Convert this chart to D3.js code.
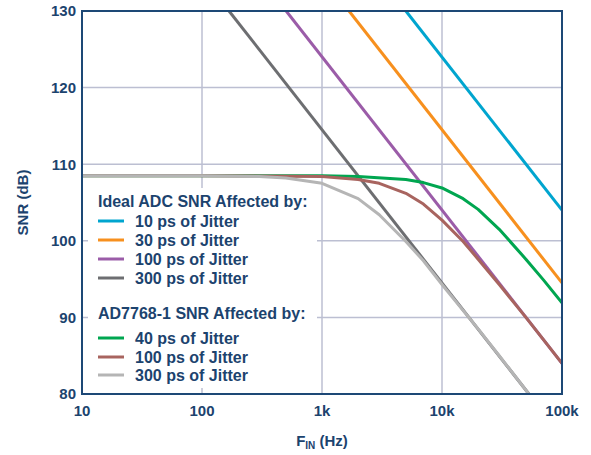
<!DOCTYPE html>
<html>
<head>
<meta charset="utf-8">
<script src="https://cdn.jsdelivr.net/npm/d3@7"></script>
<style>
  body { margin: 0; background: #fff; }
  text { font-family: "Liberation Sans", Arial, sans-serif; font-weight: bold; fill: #1c436e; }
</style>
</head>
<body>
<svg width="591" height="455"></svg>
<script>
  // x ticks (Hz) and labels
  const xTicks = [10, 100, 1000, 10000, 100000];
  const xTickLabels = ['10', '100', '1k', '10k', '100k'];
  const yTicks = [80, 90, 100, 110, 120, 130];

  // ideal ADC, jitter limited only (straight lines on log x)
  const ideal10 = [[5000, 130], [100000, 104]];
  const ideal30 = [[1680, 130], [100000, 94.5]];
  const ideal100 = [[503, 130], [100000, 84]];
  const ideal300 = [[168, 130], [53000, 80]];

  // AD7768-1 SNR
  const ad40 = [[10, 108.5], [100, 108.5], [1000, 108.5], [2000, 108.4], [5000, 108.0], [7000, 107.6],
    [10000, 106.9], [15000, 105.5], [20000, 104.1], [30000, 101.5], [50000, 97.6], [70000, 94.9], [100000, 91.9]];
  const ad100 = [[10, 108.5], [100, 108.5], [1000, 108.4], [2000, 108.0], [3000, 107.5], [5000, 106.2],
    [7000, 104.8], [10000, 102.7], [15000, 99.9], [20000, 97.6], [30000, 94.3], [50000, 90.0], [70000, 87.1], [100000, 84.0]];
  const ad300 = [[10, 108.5], [100, 108.5], [300, 108.4], [500, 108.2], [1000, 107.5], [2000, 105.5],
    [3000, 103.4], [5000, 99.9], [7000, 97.4], [10000, 94.3], [20000, 88.5], [30000, 85.0], [50000, 80.5], [55000, 79.7]];

  const series = [
    { data: ideal300, color: '#6d6e71', label: '300 ps of Jitter' },
    { data: ideal100, color: '#9b5ca8', label: '100 ps of Jitter' },
    { data: ideal30, color: '#f7901e', label: '30 ps of Jitter' },
    { data: ideal10, color: '#00a5cf', label: '10 ps of Jitter' },
    { data: ad40, color: '#00a650', label: '40 ps of Jitter' },
    { data: ad100, color: '#a8645f', label: '100 ps of Jitter' },
    { data: ad300, color: '#b5b5b5', label: '300 ps of Jitter' }
  ];

  const svg = d3.select('svg');
  const margin = { top: 11, right: 29, bottom: 61, left: 82 };
  const width = 591, height = 455;
  const innerWidth = width - margin.left - margin.right;
  const innerHeight = height - margin.top - margin.bottom;

  const x = d3.scaleLog().domain([10, 100000]).range([0, innerWidth]);
  const y = d3.scaleLinear().domain([80, 130]).range([innerHeight, 0]);

  const g = svg.append('g').attr('transform', `translate(${margin.left},${margin.top})`);

  g.append('clipPath').attr('id', 'clip')
    .append('rect').attr('width', innerWidth).attr('height', innerHeight);

  // grid
  g.selectAll('.vgrid').data(xTicks.slice(1, -1))
    .enter().append('line')
      .attr('x1', d => x(d)).attr('x2', d => x(d))
      .attr('y1', 0).attr('y2', innerHeight)
      .attr('stroke', '#bcbfd2').attr('stroke-width', 1.5);
  g.selectAll('.hgrid').data(yTicks.slice(1, -1))
    .enter().append('line')
      .attr('x1', 0).attr('x2', innerWidth)
      .attr('y1', d => y(d)).attr('y2', d => y(d))
      .attr('stroke', '#bcbfd2').attr('stroke-width', 1.5);

  const line = d3.line().x(d => x(d[0])).y(d => y(d[1]));

  g.append('g').attr('clip-path', 'url(#clip)')
    .selectAll('path').data(series)
    .enter().append('path')
      .attr('d', d => line(d.data))
      .attr('fill', 'none')
      .attr('stroke', d => d.color)
      .attr('stroke-width', 3)
      .attr('stroke-linejoin', 'round');

  // legend with white background
  const leg = g.append('g');
  leg.append('rect')
    .attr('x', 6).attr('y', 177).attr('width', 229).attr('height', 200)
    .attr('fill', '#fff');

  const legendRows = [
    { header: 'Ideal ADC SNR Affected by:', y: 196 },
    { s: series[3], y: 210 },
    { s: series[2], y: 229 },
    { s: series[1], y: 248 },
    { s: series[0], y: 267 },
    { header: 'AD7768-1 SNR Affected by:', y: 308 },
    { s: series[4], y: 327 },
    { s: series[5], y: 346 },
    { s: series[6], y: 364 }
  ];
  legendRows.forEach(r => {
    if (r.header) {
      leg.append('text').attr('x', 16).attr('y', r.y)
        .attr('font-size', 16).text(r.header);
    } else {
      leg.append('line')
        .attr('x1', 16).attr('x2', 42).attr('y1', r.y).attr('y2', r.y)
        .attr('stroke', r.s.color).attr('stroke-width', 3);
      leg.append('text').attr('x', 53).attr('y', r.y).attr('dy', '0.36em')
        .attr('font-size', 16).text(r.s.label);
    }
  });

  // frame
  g.append('rect').attr('width', innerWidth).attr('height', innerHeight)
    .attr('fill', 'none').attr('stroke', '#1d4876').attr('stroke-width', 2);

  // tick labels
  g.selectAll('.yl').data(yTicks)
    .enter().append('text')
      .attr('x', -6).attr('y', d => y(d)).attr('dy', '0.36em')
      .attr('text-anchor', 'end').attr('font-size', 15)
      .text(d => d);
  g.selectAll('.xl').data(xTicks)
    .enter().append('text')
      .attr('x', d => x(d)).attr('y', innerHeight + 22)
      .attr('text-anchor', 'middle').attr('font-size', 15)
      .text((d, i) => xTickLabels[i]);

  // axis titles
  svg.append('text')
    .attr('transform', `translate(28,${margin.top + innerHeight / 2}) rotate(-90)`)
    .attr('text-anchor', 'middle').attr('font-size', 15)
    .text('SNR (dB)');
  const xt = svg.append('text')
    .attr('x', margin.left + innerWidth / 2).attr('y', 446)
    .attr('text-anchor', 'middle').attr('font-size', 15);
  xt.append('tspan').text('F');
  xt.append('tspan').attr('font-size', 10).attr('dy', 3).text('IN');
  xt.append('tspan').attr('dy', -3).text(' (Hz)');
</script>
</body>
</html>
